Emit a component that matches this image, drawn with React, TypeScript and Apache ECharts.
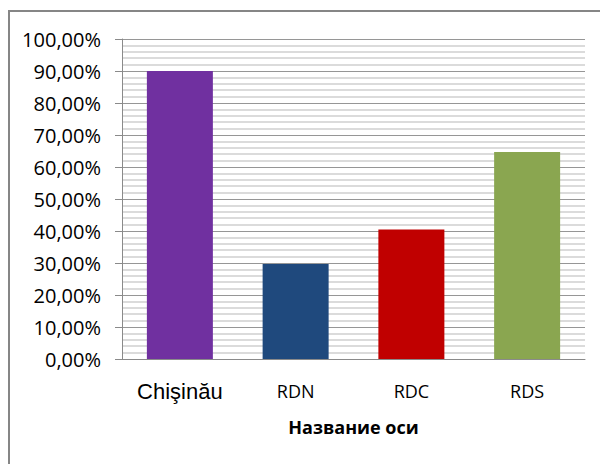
import React, { useEffect, useRef } from "react";
import * as echarts from "echarts";

const categories = ["Chişinău", "RDN", "RDC", "RDS"];
const values = [0.9, 0.297, 0.405, 0.647];
const barColors = ["#7030A0", "#1F497D", "#C00000", "#8AA650"];
const axisTitle = "Название оси";

export default function App() {
  const ref = useRef<HTMLDivElement>(null);
  useEffect(() => {
    if (!ref.current) return;
    const chart = echarts.init(ref.current, null, { renderer: "svg" });
    chart.setOption({
      animation: false,
      backgroundColor: "#ffffff",
      graphic: [
        {
          type: "rect",
          shape: { x: 9, y: 11, width: 700, height: 600 },
          style: { fill: "none", stroke: "#868686", lineWidth: 2 },
          silent: true,
          z: -1,
        },
      ],
      grid: { left: 122, right: 15, top: 39, bottom: 105 },
      xAxis: {
        type: "category",
        data: categories,
        axisLine: { show: true, lineStyle: { color: "#8a8a8a", width: 1 } },
        axisTick: { show: false },
        axisLabel: {
          margin: 20,
          interval: 0,
          formatter: (v: string, i: number) => (i === 0 ? `{a|${v}}` : `{b|${v}}`),
          rich: {
            a: { fontFamily: "Liberation Sans", fontSize: 22, color: "#000", lineHeight: 24 },
            b: { fontFamily: "Open Sans", fontSize: 18, color: "#000", lineHeight: 24 },
          },
        },
        name: axisTitle,
        nameLocation: "middle",
        nameGap: 58,
        nameTextStyle: {
          fontFamily: "Open Sans",
          fontWeight: "bold",
          fontSize: 18,
          color: "#000",
          lineHeight: 20,
        },
      },
      yAxis: {
        type: "value",
        min: 0,
        max: 1,
        interval: 0.1,
        axisLine: { show: true, lineStyle: { color: "#8a8a8a", width: 1 } },
        axisTick: { show: true, length: 7, lineStyle: { color: "#8a8a8a" } },
        minorTick: { show: false, splitNumber: 5 },
        axisLabel: {
          margin: 21,
          fontFamily: "Open Sans",
          fontSize: 20,
          color: "#000",
          formatter: (v: number) => (v * 100).toFixed(2).replace(".", ",") + "%",
        },
        splitLine: { show: true, lineStyle: { color: "#969696", width: 1 } },
        minorSplitLine: { show: true, lineStyle: { color: "#cfcfcf", width: 1.5 } },
      },
      series: [
        {
          type: "bar",
          barWidth: 66,
          data: values.map((v, i) => ({ value: v, itemStyle: { color: barColors[i] } })),
        },
      ],
    });
    return () => chart.dispose();
  }, []);
  return (
    <div
      ref={ref}
      style={{ position: "fixed", left: 0, top: 0, width: 600, height: 464 }}
    />
  );
}
